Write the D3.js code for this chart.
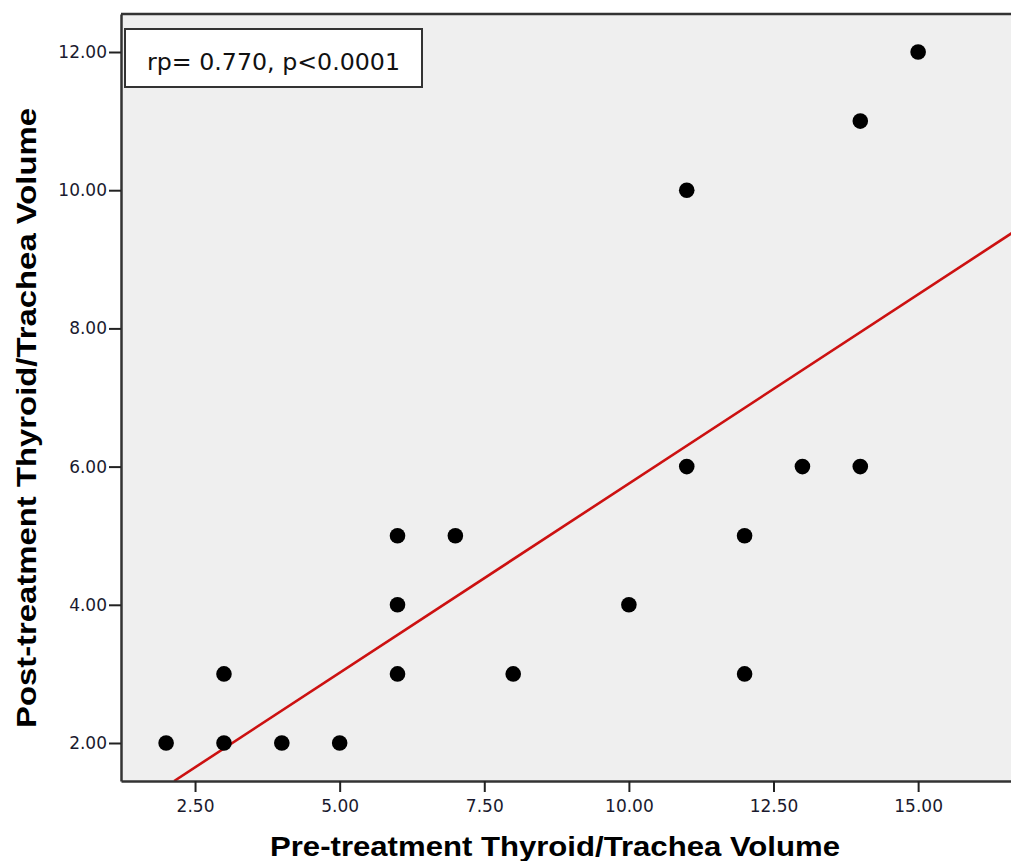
<!DOCTYPE html>
<html><head><meta charset="utf-8">
<script src="https://cdn.jsdelivr.net/npm/d3@7"></script>
<style>body{margin:0;background:#fff;}svg{display:block;}</style>
</head><body>
<svg id="chart" width="1011" height="861"></svg>
<script>
const preVolume  = [2, 3, 4, 5, 3, 6, 6, 6, 7, 8, 10, 11, 11, 12, 12, 13, 14, 14, 15];
const postVolume = [2, 2, 2, 2, 3, 3, 4, 5, 5, 3, 4, 6, 10, 5, 3, 6, 6, 11, 12];
const xTicks = [2.5, 5, 7.5, 10, 12.5, 15];
const yTicks = [2, 4, 6, 8, 10, 12];
const xTitle = "Pre-treatment Thyroid/Trachea Volume";
const yTitle = "Post-treatment Thyroid/Trachea Volume";
const annotation = "rp= 0.770, p<0.0001";

const svg = d3.select("#chart");
const L = 121, T = 14, R = 1013, B = 781;
const x = d3.scaleLinear().domain([1.22, 16.64]).range([L, R]);
const y = d3.scaleLinear().domain([1.45, 12.55]).range([B, T]);

svg.append("rect").attr("x", L).attr("y", T).attr("width", R - L).attr("height", B - T)
  .attr("fill", "#efefef");

// regression (least squares from the data)
const n = preVolume.length;
const mx = d3.mean(preVolume), my = d3.mean(postVolume);
let sxy = 0, sxx = 0;
for (let i = 0; i < n; i++) { sxy += (preVolume[i]-mx)*(postVolume[i]-my); sxx += (preVolume[i]-mx)**2; }
const slope = sxy / sxx, icpt = my - slope * mx;
const x0 = (y.domain()[0] - icpt) / slope, x1 = x.domain()[1];
svg.append("clipPath").attr("id","pc").append("rect")
  .attr("x", L).attr("y", T).attr("width", R-L).attr("height", B-T);
svg.append("line").attr("clip-path","url(#pc)")
  .attr("x1", x(x0)).attr("y1", y(icpt + slope*x0))
  .attr("x2", x(x1)).attr("y2", y(icpt + slope*x1))
  .attr("stroke", "#cc1111").attr("stroke-width", 2.6);

// points
svg.append("g").selectAll("circle").data(preVolume).join("circle")
  .attr("cx", (d) => x(d)).attr("cy", (d, i) => y(postVolume[i])).attr("r", 7.8)
  .attr("fill", "#000");

// axes
const xAxis = d3.axisBottom(x).tickValues(xTicks).tickFormat(d3.format(".2f")).tickSize(11).tickSizeOuter(0);
const gx = svg.append("g").attr("transform", `translate(0,${B})`).call(xAxis);
const yAxis = d3.axisLeft(y).tickValues(yTicks).tickFormat(d3.format(".2f")).tickSize(12).tickSizeOuter(0).tickPadding(2);
const gy = svg.append("g").attr("transform", `translate(${L},0)`).call(yAxis);
[gx, gy].forEach(g => {
  g.select(".domain").attr("stroke", "#333").attr("stroke-width", 2.5);
  g.selectAll(".tick line").attr("stroke", "#222").attr("stroke-width", 2);
  g.selectAll(".tick text").attr("fill", "#1a1a2e")
    .style("font-family", "'DejaVu Sans', sans-serif").style("font-size", "17px");
});
gx.selectAll(".tick text").attr("y", 31).attr("dy", 0);
// top border
svg.append("line").attr("x1", L).attr("x2", R).attr("y1", T).attr("y2", T)
  .attr("stroke", "#333").attr("stroke-width", 2.5);

// annotation box
svg.append("rect").attr("x", 125).attr("y", 29).attr("width", 297).attr("height", 58)
  .attr("fill", "#fff").attr("stroke", "#333").attr("stroke-width", 2);
svg.append("text").attr("x", 147).attr("y", 70).text(annotation)
  .attr("textLength", 253).attr("lengthAdjust", "spacingAndGlyphs")
  .style("font-family", "'DejaVu Sans', sans-serif").style("font-size", "23px").attr("fill", "#111");

// titles
svg.append("text").attr("x", 555).attr("y", 856).attr("text-anchor", "middle").text(xTitle)
  .attr("textLength", 570).attr("lengthAdjust", "spacingAndGlyphs")
  .style("font-family", "'Liberation Sans', Arial, sans-serif").style("font-weight", "bold").style("font-size", "28px");
svg.append("text").attr("transform", "translate(36,418) rotate(-90)").attr("text-anchor", "middle").text(yTitle)
  .attr("textLength", 620).attr("lengthAdjust", "spacingAndGlyphs")
  .style("font-family", "'Liberation Sans', Arial, sans-serif").style("font-weight", "bold").style("font-size", "28px");
</script>
</body></html>
